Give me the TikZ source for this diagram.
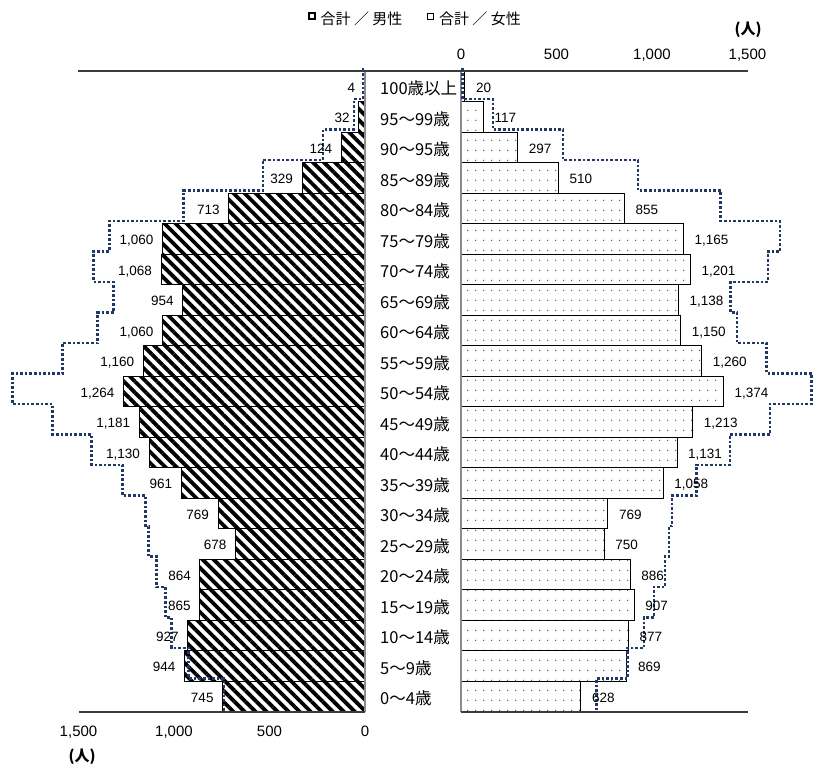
\documentclass[tikz,border=0pt]{standalone}
\usepackage{fontspec}
\setmainfont{Liberation Sans}
\newfontfamily\jpfont{Noto Sans CJK JP}
\usepackage{tikz}
\usetikzlibrary{patterns, patterns.meta, positioning}
\definecolor{refnavy}{RGB}{31,56,100}
\definecolor{axisgray}{RGB}{60,60,60}
\pgfdeclarepatternformonly{sparsedots}{\pgfpointorigin}{\pgfpoint{8.3pt}{10pt}}{\pgfpoint{8.3pt}{10pt}}{\pgfpathcircle{\pgfpoint{4pt}{5pt}}{0.7pt}\pgfusepath{fill}}
\pgfkeys{/pgf/number format/.cd, int detect, 1000 sep={,}, assume math mode=true}
\tikzstyle{malebar} = [draw=black, line width=1pt, pattern={Lines[angle=-45, distance=7.8pt, line width=3.8pt]}]
\tikzstyle{femalebar} = [draw=black, line width=1pt, pattern=sparsedots, pattern color=black!70]
\tikzstyle{refline} = [draw=refnavy, line width=2.6pt, dash pattern=on 2.6pt off 2pt]
\tikzstyle{numlabel} = [font=\fontsize{13.5}{15}\selectfont, inner sep=0pt, text height=9.7pt, text depth=0pt]
\tikzstyle{agelabel} = [font=\jpfont\fontsize{16.5}{18}\selectfont, inner sep=0pt, anchor=west]
\tikzstyle{ticklabel} = [font=\fontsize{15}{17}\selectfont, inner sep=0pt, text height=10.7pt, text depth=0pt]
\tikzstyle{unitlabel} = [font=\jpfont\bfseries\fontsize{15}{17}\selectfont, inner sep=0pt]
\tikzstyle{keytext} = [font=\jpfont\fontsize{15}{17}\selectfont, inner sep=0pt]
\tikzstyle{keybox} = [draw=black, minimum size=6pt, inner sep=0pt]
\tikzstyle{axisline} = [draw=axisgray, line width=2pt]
\tikzstyle{zeroline} = [draw=black!45, line width=1.2pt]

\begin{document}
\begin{tikzpicture}[x=1pt, y=-1pt]
    \useasboundingbox (0,0) rectangle (813,765);
    \def\pxper{0.191}

    % Legend
    \node (keymale) [keybox, line width=2pt] at (311.5,16.5) {};
    \node (textmale) [keytext, right=5pt of keymale, yshift=-2pt] {合計 ／ 男性};
    \node (keyfemale) [keybox, line width=0.8pt] at (430.5,16.5) {};
    \node (textfemale) [keytext, right=5pt of keyfemale, yshift=-2pt] {合計 ／ 女性};

    % Bars
    \foreach \v [count=\i from 0] in {4,32,124,329,713,1060,1068,954,1060,1160,1264,1181,1130,961,769,678,864,865,927,944,745}
        \draw[malebar] ({365-\v*\pxper},{71+\i*30.5}) rectangle (365,{71+(\i+1)*30.5});
    \foreach \v [count=\i from 0] in {20,117,297,510,855,1165,1201,1138,1150,1260,1374,1213,1131,1058,769,750,886,907,877,869,628}
        \draw[femalebar] (461,{71+\i*30.5}) rectangle ({461+\v*\pxper},{71+(\i+1)*30.5});

    % Axes
    \coordinate (ltop) at (365,71);
    \coordinate (lbot) at (365,712);
    \coordinate (rtop) at (461,71);
    \coordinate (rbot) at (461,712);
    \draw[zeroline] (ltop) -- (lbot);
    \draw[zeroline] (rtop) -- (rbot);
    \draw[axisline] (78,71.5) -- (748,71.5);
    \draw[axisline] (78.5,712) -- (lbot);
    \draw[axisline] (rbot) -- (748,712);

    % Reference outline (dotted)
    \draw[refline] ({365-10*\pxper},68.5)
        \foreach \r [count=\i from 0] in {10,58,220,535,949,1337,1421,1316,1400,1584,1846,1636,1432,1269,1148,1133,1091,1044,1012,923,739}
        { -- ({365-\r*\pxper},{68.5+\i*30.5}) -- ({365-\r*\pxper},{68.5+(\i+1)*30.5}) } -- ++(0,3);
    \draw[refline] ({461+9*\pxper},68.5)
        \foreach \r [count=\i from 0] in {9,168,534,927,1360,1670,1607,1412,1445,1600,1836,1618,1408,1234,1105,1089,1068,1010,958,873,710}
        { -- ({461+\r*\pxper},{68.5+\i*30.5}) -- ({461+\r*\pxper},{68.5+(\i+1)*30.5}) } -- ++(0,3);

    % Value labels
    \foreach \v [count=\i from 0] in {4,32,124,329,713,1060,1068,954,1060,1160,1264,1181,1130,961,769,678,864,865,927,944,745}
        \node (mval\i) [numlabel, anchor=east] at ({365-\v*\pxper-9},{87.25+\i*30.5}) {\pgfmathprintnumber{\v}};
    \foreach \v [count=\i from 0] in {20,117,297,510,855,1165,1201,1138,1150,1260,1374,1213,1131,1058,769,750,886,907,877,869,628}
        \node (fval\i) [numlabel, anchor=west] at ({461+\v*\pxper+11},{87.25+\i*30.5}) {\pgfmathprintnumber{\v}};

    % Age groups
    \foreach \a [count=\i from 0] in {100歳以上,95～99歳,90～95歳,85～89歳,80～84歳,75～79歳,70～74歳,65～69歳,60～64歳,55～59歳,50～54歳,45～49歳,40～44歳,35～39歳,30～34歳,25～29歳,20～24歳,15～19歳,10～14歳,5～9歳,0～4歳}
        \node (age\i) [agelabel] at (380,{88.5+\i*30.5}) {\a};

    % Tick labels
    \foreach \t [count=\k from 0] in {0,500,1000,1500} {
        \node (rtick\k) [ticklabel] at ({461+\t*\pxper},54) {\pgfmathprintnumber{\t}};
        \node (ltick\k) [ticklabel] at ({365-\t*\pxper},731.5) {\pgfmathprintnumber{\t}};
    }
    \node (unittop) [unitlabel] at (748,30) {(人)};
    \node (unitbot) [unitlabel] at (82,757) {(人)};
\end{tikzpicture}
\end{document}
